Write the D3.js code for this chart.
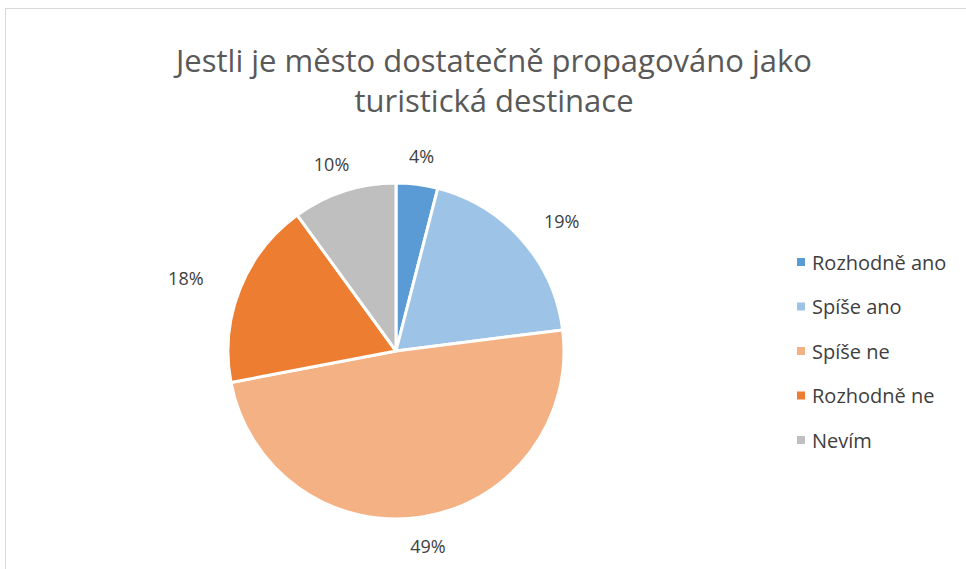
<!DOCTYPE html>
<html>
<head>
<meta charset="utf-8">
<script src="https://cdn.jsdelivr.net/npm/d3@7"></script>
<style>
  body { margin: 0; background: #fff; }
  text { font-family: "Open Sans", "Noto Sans", sans-serif; }
</style>
</head>
<body>
<div id="chart"></div>
<script>
const categories = ["Rozhodně ano", "Spíše ano", "Spíše ne", "Rozhodně ne", "Nevím"];
const values = [4, 19, 49, 18, 10];
const colours = ["#5b9bd5", "#9dc3e6", "#f4b183", "#ed7d31", "#bfbfbf"];
const titleLines = ["Jestli je město dostatečně propagováno jako", "turistická destinace"];

const width = 966, height = 569;
const cx = 396, cy = 351, radius = 168;

let svg = d3.select("#chart").append("svg")
    .attr("width", width).attr("height", height);

// chart frame
svg.append("rect")
    .attr("x", 5.5).attr("y", 8.5)
    .attr("width", width + 10).attr("height", height + 10)
    .attr("fill", "#fff").attr("stroke", "#d9d9d9");

svg.append("g").selectAll("text")
    .data(titleLines)
    .enter().append("text")
    .attr("x", 494)
    .attr("y", (d, i) => 72 + i * 40)
    .attr("text-anchor", "middle")
    .attr("font-size", 31)
    .attr("fill", "#595959")
    .text(d => d);

const pie = d3.pie().sort(null).value(d => d);
const arcs = pie(values);
const arc = d3.arc().innerRadius(0).outerRadius(radius);

let g = svg.append("g").attr("transform", `translate(${cx},${cy})`);

g.selectAll("path")
    .data(arcs)
    .enter().append("path")
    .attr("d", arc)
    .attr("fill", (d, i) => colours[i])
    .attr("stroke", "#fff")
    .attr("stroke-width", 3)
    .attr("stroke-linejoin", "round");

// labels outside the pie
g.selectAll("text")
    .data(arcs)
    .enter().append("text")
    .attr("x", d => {
        const a = (d.startAngle + d.endAngle) / 2;
        return Math.sin(a) * (radius + 32 + 28 * Math.abs(Math.sin(a)));
    })
    .attr("y", d => {
        const a = (d.startAngle + d.endAngle) / 2;
        return -Math.cos(a) * (radius + 29);
    })
    .attr("text-anchor", "middle")
    .attr("dominant-baseline", "central")
    .attr("font-size", 18)
    .attr("fill", "#404040")
    .text(d => d.data + "%");

let legend = svg.append("g").selectAll("g")
    .data(categories)
    .enter().append("g")
    .attr("transform", (d, i) => `translate(797, ${262 + i * 44.5})`);

legend.append("rect")
    .attr("x", 0).attr("y", -4)
    .attr("width", 8).attr("height", 8)
    .attr("fill", (d, i) => colours[i]);

legend.append("text")
    .attr("x", 15)
    .attr("y", 0)
    .attr("dominant-baseline", "central")
    .attr("font-size", 20)
    .attr("fill", "#404040")
    .text(d => d);
</script>
</body>
</html>
